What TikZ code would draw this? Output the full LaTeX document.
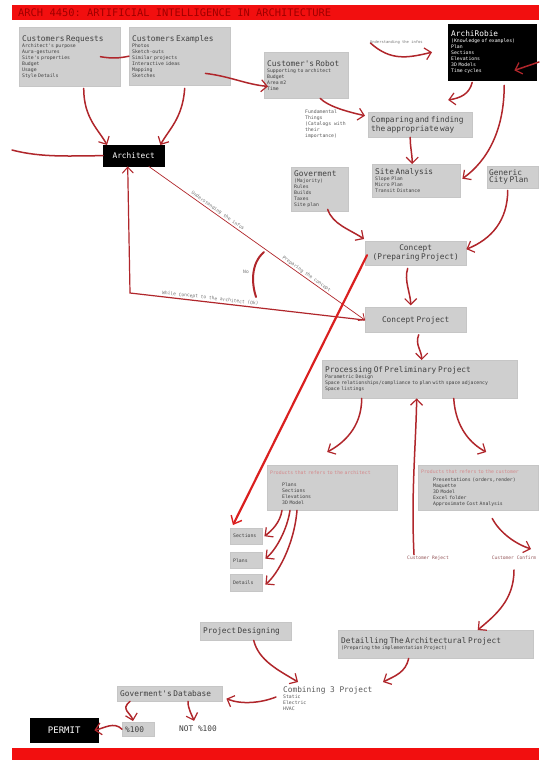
\documentclass[tikz,border=0pt]{standalone}
\usepackage{fontspec}
\setmonofont{DejaVu Sans Mono}
\usetikzlibrary{arrows.meta,positioning}

\definecolor{cardgray}{HTML}{CFCFCF}
\definecolor{flowred}{HTML}{B0262B}
\definecolor{hotred}{HTML}{DA1F1F}
\definecolor{barred}{HTML}{F20F0F}
\definecolor{barink}{HTML}{A00000}

\newcommand{\ttl}[1]{{\fontsize{7.8}{9.5}\selectfont #1}}
\newcommand{\ind}{\hspace*{12pt}}

\tikzset{
  card/.style={draw=gray!45, fill=cardgray, anchor=north west, align=left,
    inner sep=3pt, text=black!75, font=\ttfamily\fontsize{4.8}{6}\selectfont},
  blackcard/.style={card, draw=black, fill=black, text=white},
  memo/.style={anchor=north west, align=left, inner sep=0pt, text=black!65,
    font=\ttfamily\fontsize{4.8}{6}\selectfont},
  tag/.style={inner sep=1pt, text=black!55, font=\ttfamily\fontsize{4.6}{5}\selectfont},
  rrule/.style={path picture={\draw[black!70, line width=1.4pt]
    (path picture bounding box.north east) -- (path picture bounding box.south east);}},
  lrule/.style={path picture={\draw[black!70, line width=1.4pt]
    (path picture bounding box.north west) -- (path picture bounding box.south west);}},
  flow/.style={draw=flowred, line width=1.5pt, line cap=round,
    -{Straight Barb[length=6pt,width=12pt,line width=1.2pt]}},
  flowline/.style={draw=flowred, line width=1.5pt, line cap=round},
  thinflow/.style={draw=flowred, line width=0.7pt,
    -{Straight Barb[length=5pt,width=9pt,line width=0.8pt]}},
  backflow/.style={draw=flowred, line width=1.2pt,
    {Straight Barb[length=6pt,width=11pt,line width=1pt]}-},
  bigflow/.style={draw=hotred, line width=2.2pt, line cap=round,
    -{Straight Barb[length=7pt,width=12pt,line width=1.4pt]}},
}

\begin{document}
\begin{tikzpicture}[x=1pt, y=-1pt]
  \fill[white] (0,0) rectangle (539,760);
  \useasboundingbox (0,0) rectangle (539,760);

  \fill[barred] (12,5) rectangle (539,20);
  \fill[barred] (12,748) rectangle (539,760);
  \node[anchor=west, inner sep=0pt, text=barink, font=\ttfamily\fontsize{10.4}{12}\selectfont]
    (heading) at (18,12.5) {ARCH 4450: ARTIFICIAL INTELLIGENCE IN ARCHITECTURE};

  \node[card, rrule, text width=95pt, minimum height=59pt] (req) at (19,27)
    {\ttl{Customers Requests}\\Architect's purpose\\Aura-gestures\\Site's properties\\Budget\\Usage\\Style Details};
  \node[card, text width=95pt, minimum height=58pt] (ex) at (129,27)
    {\ttl{Customers Examples}\\Photos\\Sketch-outs\\Similar projects\\Interactive ideas\\Mapping\\Sketches};
  \node[card, text width=78pt, minimum height=46pt] (robot) at (264,52)
    {\ttl{Customer's Robot}\\Supporting to architect\\Budget\\Area m2\\Time};
  \node[blackcard, text width=82pt, minimum height=56pt] (archi) at (448,24)
    {\ttl{ArchiRobie}\\(Knowledge of examples)\\Plan\\Sections\\Elevations\\3D Models\\Time cycles};
  \node[blackcard, align=center, minimum width=61pt, minimum height=21pt] (arch) at (103,145)
    {\ttl{Architect}};

  \node[memo] (fund) at (305,110)
    {Fundamental\\Things\\(Catalogs with\\their\\importance)};
  \node[card, text width=98pt, minimum height=25pt] (comp) at (368,112)
    {\ttl{Comparing and finding}\\\ttl{the appropriate way}};
  \node[card, text width=82pt, minimum height=33pt] (site) at (372,164)
    {\ttl{Site Analysis}\\Slope Plan\\Micro Plan\\Transit Distance};
  \node[card, text width=51pt, minimum height=44pt] (gov) at (291,167)
    {\ttl{Goverment}\\(Majority)\\Rules\\Builds\\Taxes\\Site plan};
  \node[card, inner sep=2pt, text width=47pt, minimum height=22pt] (city) at (487,166)
    {\ttl{Generic}\\\ttl{City Plan}};

  \node[card, align=center, text width=95pt, minimum height=24pt] (conc1) at (365,241)
    {\ttl{Concept}\\\ttl{(Preparing Project)}};
  \node[card, align=center, text width=95pt, minimum height=25pt, below=42pt of conc1] (cproj)
    {\ttl{Concept Project}};
  \node[card, rrule, text width=189pt, minimum height=38pt] (proc) at (322,360)
    {\ttl{Processing Of Preliminary Project}\\Parametric Design\\Space relationships/compliance to plan with space adjacency\\Space listings};

  \node[card, rrule, text width=124pt, minimum height=45pt] (parch) at (267,465)
    {\textcolor{flowred!55}{Products that refers to the architect}\\[6pt]\ind Plans\\\ind Sections\\\ind Elevations\\\ind 3D Model};
  \node[card, lrule, text width=114pt, minimum height=45pt] (pcust) at (418,465)
    {\textcolor{flowred!55}{Products that refers to the customer}\\[2pt]\ind Presentations (orders,render)\\\ind Maquette\\\ind 3D Model\\\ind Excel folder\\\ind Approximate Cost Analysis};

  \node[card, text width=26pt, minimum height=16pt] (s1) at (230,528) {Sections};
  \node[card, text width=26pt, minimum height=16pt, below=8pt of s1] (s2) {Plans};
  \node[card, text width=26pt, minimum height=17pt, below=5pt of s2] (s3) {Details};

  \node[tag, text=flowred!45!gray] (reject) at (428,558) {Customer Reject};
  \node[tag, text=flowred!45!gray] (confirm) at (514,558) {Customer Confirm};

  \node[card, text width=85pt, minimum height=18pt] (pdes) at (200,622)
    {\ttl{Project Designing}};
  \node[card, text width=189pt, minimum height=28pt] (det) at (338,630)
    {\ttl{Detailling The Architectural Project}\\(Preparing the implementation Project)};
  \node[memo] (comb) at (283,686)
    {\ttl{Combining 3 Project}\\Static\\Electric\\HVAC};
  \node[card, lrule, text width=99pt, minimum height=15pt] (gdb) at (117,686)
    {\ttl{Goverment's Database}};
  \node[card, text width=26pt, minimum height=14pt] (p100) at (122,722) {\ttl{\%100}};
  \node[inner sep=0pt, text=black!75, font=\ttfamily] (n100) at (198,729) {\ttl{NOT \%100}};
  \node[blackcard, align=center, minimum width=68pt, minimum height=24pt] (permit) at (30,718)
    {{\fontsize{9}{10}\selectfont PERMIT}};

  \coordinate (edgeL) at (12,150);
  \coordinate (rim) at (539,62);
  \coordinate (corner) at (130,293);
  \coordinate (noA) at (264,252);
  \coordinate (noB) at (256,297);

  \draw[flowline] ([xshift=-20pt]req.east) .. controls +(12,2) and +(-10,2) .. (ex.west);
  \draw[flow] ([shift={(-25,-12)}]ex.south east) .. controls +(25,3) and +(-22,-2) .. ([shift={(4,-12)}]robot.south west);
  \draw[flow] ([xshift=14pt]robot.south) .. controls +(8,8) and +(-18,-4) .. ([shift={(-3,-9)}]comp.west);
  \draw[flow] ([shift={(22,-9)}]robot.north east) .. controls +(20,18) and +(-25,6) .. ([xshift=-16pt]archi.west)
    node[tag, pos=0.45, above=10pt, font=\ttfamily\fontsize{3.8}{4}\selectfont] (infos) {Understanding the infos};
  \draw[flow] (rim) -- ([shift={(-22,-10)}]archi.south east);
  \draw[flow] ([shift={(-20,2)}]archi.south) .. controls +(-3,12) and +(12,-2) .. ([shift={(28,-12)}]comp.north);
  \draw[flow] ([shift={(12,5)}]archi.south) .. controls +(0,45) and +(25,-18) .. ([shift={(2,-2)}]site.east);
  \draw[flow] ([xshift=-10pt]comp.south) .. controls +(0,10) and +(0,-10) .. ([xshift=-4pt]site.north);

  \draw[flow] ([shift={(14,2)}]req.south) .. controls +(0,30) and +(-8,-15) .. ([xshift=4pt]arch.north west);
  \draw[flow] ([shift={(5,3)}]ex.south) .. controls +(-2,30) and +(8,-15) .. ([xshift=-4pt]arch.north east);
  \draw[flowline] (edgeL) .. controls +(30,8) and +(-30,0) .. (arch.west);

  \draw[thinflow] (arch) -- (cproj.west)
    node[tag, pos=0.31, sloped, above] {Understanding the infos}
    node[tag, pos=0.72, sloped, above] {Preparing the concept};
  \draw[backflow] ([xshift=-6pt]arch.south) -- (corner)
    -- node[tag, pos=0.34, sloped, above] {While Concept to the architect (Ok)} (cproj.west);
  \draw[flowline, line width=2pt] (noA) .. controls +(-14,12) and +(-4,-12) .. (noB);
  \node[tag] (no) at (246,272) {No};

  \draw[flow] ([shift={(8,-2)}]gov.south) .. controls +(5,15) and +(-15,-10) .. ([shift={(-1,-2)}]conc1.north west);
  \draw[flow] ([shift={(-5,2)}]city.south) .. controls +(0,30) and +(25,-10) .. ([yshift=4pt]conc1.east);
  \draw[bigflow] ([shift={(2,2)}]conc1.west) -- ([shift={(3,-3)}]s1.north west);
  \draw[flow] ([shift={(-8,3)}]conc1.south) .. controls +(-4,12) and +(0,-12) .. ([shift={(-5,-2)}]cproj.north);
  \draw[flow] ([shift={(3,2)}]cproj.south) .. controls +(-4,10) and +(0,-10) .. ([xshift=2pt]proc.north);

  \draw[flow] ([xshift=-58pt]proc.south) .. controls +(0,30) and +(15,-8) .. ([shift={(-5,-13)}]parch.north);
  \draw[flow] ([xshift=34pt]proc.south) .. controls +(2,30) and +(-15,-8) .. ([shift={(8,-13)}]pcust.north);
  \draw[flow] ([xshift=-14pt]reject.north) .. controls +(-3,-60) and +(-1,50) .. ([xshift=-3pt]proc.south);
  \draw[flow] ([shift={(14,8)}]pcust.south) .. controls +(8,15) and +(-15,-5) .. ([shift={(17,-6)}]confirm.north);
  \draw[flow] ([yshift=-9pt]confirm.south) .. controls +(0,30) and +(18,-15) .. ([xshift=42pt]det.north);

  \draw[flow] ([xshift=15pt]parch.south west) .. controls +(-2,12) and +(8,-6) .. ([xshift=2pt]s1.east);
  \draw[flow] ([xshift=23pt]parch.south west) .. controls +(-3,20) and +(10,-8) .. ([shift={(3,-2)}]s2.east);
  \draw[flow] ([xshift=30pt]parch.south west) .. controls +(-3,35) and +(12,-10) .. ([shift={(3,2)}]s3.east);

  \draw[flow] ([xshift=8pt]pdes.south) .. controls +(5,20) and +(-20,-12) .. ([shift={(15,-4)}]comb.north west);
  \draw[flow] ([xshift=-27pt]det.south) .. controls +(-3,14) and +(12,-6) .. ([shift={(100,-4)}]comb.north west);
  \draw[flow] ([shift={(-7,11)}]comb.north west) .. controls +(-15,6) and +(15,6) .. ([shift={(4,5)}]gdb.east);
  \draw[flow] ([xshift=13pt]gdb.south west) .. controls +(-10,8) and +(-2,-8) .. ([shift={(11,-1)}]p100.north west);
  \draw[flow] ([xshift=71pt]gdb.south west) .. controls +(0,8) and +(-2,-6) .. ([shift={(-4,-5)}]n100.north);
  \draw[flow] (p100.west) .. controls +(-8,-8) and +(10,-2) .. ([xshift=-4pt]permit.east);
\end{tikzpicture}
\end{document}
